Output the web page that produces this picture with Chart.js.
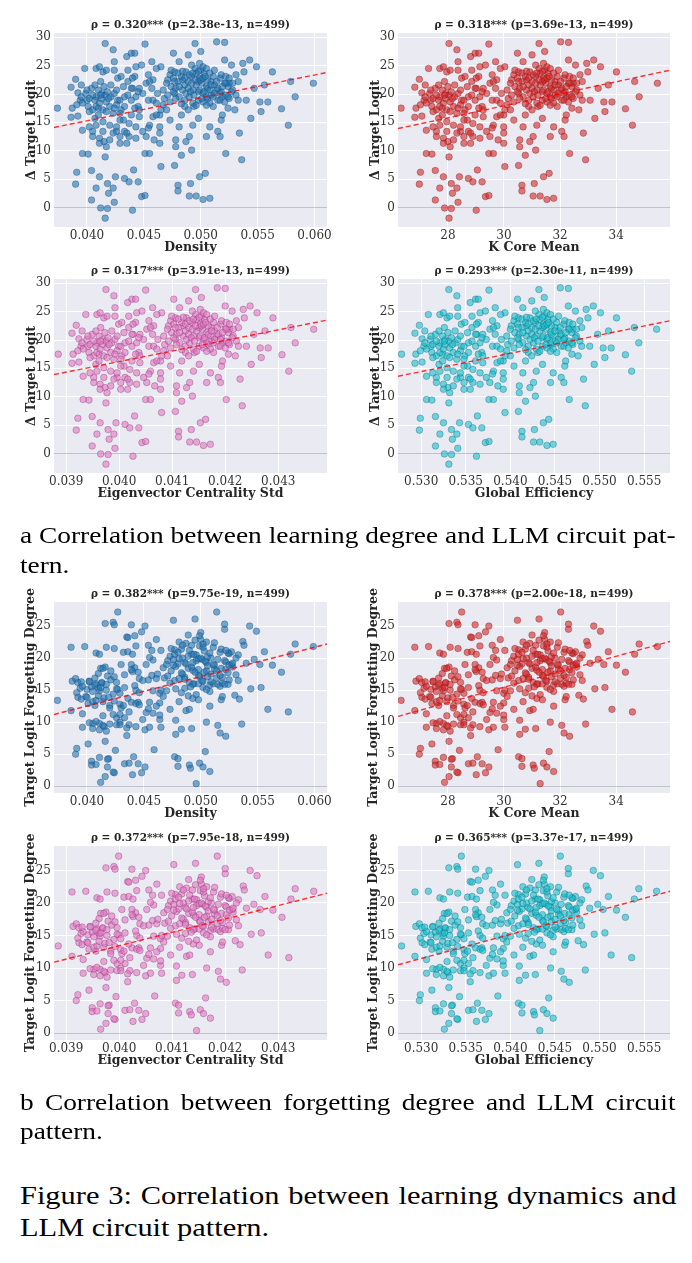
<!DOCTYPE html>
<html>
<head>
<meta charset="utf-8">
<script src="https://cdn.jsdelivr.net/npm/chart.js@4.4.1/dist/chart.umd.min.js"></script>
<style>
    body { margin: 0; background: #fff; width: 692px; height: 1263px; position: relative; overflow: hidden; }
    .panel { position: absolute; width: 346px; }
    .cap { position: absolute; left: 20px; font-family: "Liberation Serif", "Times New Roman", serif; color: #000; transform-origin: 0 0; }
    .cap div { white-space: nowrap; }
    .cap .j { white-space: normal; text-align: justify; text-align-last: justify; }
</style>
</head>
<body>
<div class="panel" id="p0"><canvas id="c0"></canvas></div>
<div class="panel" id="p1"><canvas id="c1"></canvas></div>
<div class="panel" id="p2"><canvas id="c2"></canvas></div>
<div class="panel" id="p3"><canvas id="c3"></canvas></div>
<div class="panel" id="p4"><canvas id="c4"></canvas></div>
<div class="panel" id="p5"><canvas id="c5"></canvas></div>
<div class="panel" id="p6"><canvas id="c6"></canvas></div>
<div class="panel" id="p7"><canvas id="c7"></canvas></div>

<div class="cap" style="top:520px;font-size:24px;line-height:30px;width:575px;transform:scaleX(1.14);">
    <div class="j">a Correlation between learning degree and LLM circuit pat-</div>
    <div>tern.</div>
</div>
<div class="cap" style="top:1088px;font-size:24px;line-height:29px;width:575px;transform:scaleX(1.14);">
    <div class="j">b Correlation between forgetting degree and LLM circuit</div>
    <div>pattern.</div>
</div>
<div class="cap" style="top:1180px;font-size:26px;line-height:32px;width:561px;transform:scaleX(1.17);">
    <div class="j">Figure 3: Correlation between learning dynamics and</div>
    <div>LLM circuit pattern.</div>
</div>

<script>
// one entry per model checkpoint, same order in every array
var density = [
    0.0374,0.0386,0.0387,0.0386,0.0390,0.0391,0.0390,0.0392,0.0392,0.0398,0.0396,0.0396,
    0.0400,0.0401,0.0404,0.0404,0.0405,0.0408,0.0408,0.0412,0.0416,0.0416,0.0418,0.0419,
    0.0423,0.0424,0.0418,0.0416,0.0411,0.0412,0.0413,0.0410,0.0408,0.0407,0.0411,0.0415,
    0.0424,0.0426,0.0427,0.0425,0.0423,0.0429,0.0433,0.0435,0.0439,0.0442,0.0440,0.0441,
    0.0445,0.0437,0.0433,0.0437,0.0439,0.0442,0.0446,0.0448,0.0451,0.0451,0.0451,0.0455,
    0.0452,0.0454,0.0455,0.0457,0.0458,0.0459,0.0464,0.0464,0.0465,0.0465,0.0467,0.0464,
    0.0468,0.0470,0.0471,0.0476,0.0477,0.0477,0.0478,0.0478,0.0480,0.0480,0.0481,0.0483,
    0.0484,0.0486,0.0483,0.0487,0.0489,0.0490,0.0491,0.0492,0.0493,0.0494,0.0495,0.0496,
    0.0496,0.0498,0.0499,0.0500,0.0501,0.0502,0.0504,0.0505,0.0506,0.0508,0.0509,0.0511,
    0.0514,0.0515,0.0517,0.0518,0.0521,0.0521,0.0522,0.0524,0.0525,0.0527,0.0530,0.0534,
    0.0536,0.0537,0.0538,0.0540,0.0543,0.0544,0.0547,0.0549,0.0552,0.0553,0.0556,0.0559,
    0.0563,0.0571,0.0577,0.0579,0.0583,0.0599,
    0.0473,0.0474,0.0476,0.0477,0.0478,0.0480,0.0481,0.0483,0.0484,0.0486,0.0487,0.0489,
    0.0490,0.0492,0.0493,0.0495,0.0496,0.0498,0.0499,0.0500,0.0502,0.0503,0.0505,0.0506,
    0.0508,0.0509,0.0511,0.0512,0.0514,0.0515,0.0517,0.0518,0.0519,0.0521,0.0522,0.0524,
    0.0525,0.0528,0.0531,0.0533,0.0499,0.0502,0.0505,0.0492,0.0486,0.0489,0.0493,0.0498,
    0.0502,0.0505,0.0508,0.0512,0.0517,0.0522,0.0527,
    0.0394,0.0395,0.0396,0.0399,0.0401,0.0402,0.0404,0.0405,0.0407,0.0408,0.0410,0.0411,
    0.0413,0.0414,0.0416,0.0417,0.0418,0.0420,0.0421,0.0423,0.0424,0.0426,0.0429,0.0430,
    0.0432,0.0433,0.0436,0.0439,0.0440,0.0443,0.0445,0.0446,0.0449,0.0452,0.0455,0.0457,
    0.0458,0.0461,0.0462,0.0465,0.0467,
    0.0402,0.0405,0.0408,0.0411,0.0414,0.0417,0.0420,0.0423,0.0426,0.0429,0.0432,0.0435,
    0.0437,0.0443,0.0446,0.0449,0.0458,0.0461,
    0.0411,0.0414,0.0417,0.0424,0.0427,0.0430,0.0436,0.0440,0.0443,0.0448,0.0454,0.0461,
    0.0470,0.0471,0.0473,0.0474,0.0476,0.0477,0.0478,0.0480,0.0481,0.0483,0.0484,0.0486,
    0.0487,0.0489,0.0490,0.0491,0.0492,0.0493,0.0494,0.0495,0.0496,0.0498,0.0499,0.0500,
    0.0501,0.0502,0.0503,0.0504,0.0505,0.0506,0.0508,0.0509,0.0511,0.0512,0.0514,0.0515,
    0.0517,0.0518,0.0519,0.0521,0.0522,0.0524,0.0525,0.0528,0.0531,0.0533,
    0.0391,0.0395,0.0400,0.0402,0.0405,0.0407,0.0410,0.0412,0.0415,0.0417,0.0419,0.0421,
    0.0424,0.0426,0.0429,0.0433,0.0436,0.0439,0.0442,0.0445,
    0.0414,0.0420,0.0429,0.0435,0.0443,0.0454,0.0464,0.0473,0.0481,0.0490,0.0498,0.0508,0.0519
];

var kCoreMean = [
    26.33,26.82,26.86,26.82,26.98,27.02,26.98,27.07,27.07,27.31,27.23,27.23,
    27.39,27.43,27.55,27.55,27.59,27.71,27.71,27.88,28.04,28.04,28.12,28.16,
    28.32,28.36,28.12,28.04,27.84,27.88,27.92,27.80,27.71,27.67,27.84,28.00,
    28.36,28.45,28.49,28.41,28.32,28.57,28.73,28.81,28.97,29.10,29.01,29.05,
    29.22,28.89,28.73,28.89,28.97,29.10,29.26,29.34,29.46,29.46,29.46,29.62,
    29.50,29.58,29.62,29.70,29.74,29.79,29.99,29.99,30.03,30.03,30.11,29.99,
    30.15,30.23,30.27,30.48,30.52,30.52,30.56,30.56,30.64,30.64,30.68,30.76,
    30.80,30.88,30.76,30.92,31.00,31.04,31.08,31.13,31.17,31.21,31.25,31.29,
    31.29,31.37,31.41,31.45,31.49,31.53,31.61,31.65,31.69,31.77,31.82,31.90,
    32.02,32.06,32.14,32.18,32.30,32.30,32.34,32.42,32.47,32.55,32.67,32.83,
    32.91,32.95,32.99,33.07,33.20,33.24,33.36,33.44,33.56,33.60,33.72,33.85,
    34.01,34.33,34.58,34.66,34.82,35.47,
    30.35,30.39,30.48,30.52,30.56,30.64,30.68,30.76,30.80,30.88,30.92,31.00,
    31.04,31.13,31.17,31.25,31.29,31.37,31.41,31.45,31.53,31.57,31.65,31.69,
    31.77,31.82,31.90,31.94,32.02,32.06,32.14,32.18,32.22,32.30,32.34,32.42,
    32.47,32.59,32.71,32.79,31.41,31.53,31.65,31.13,30.88,31.00,31.17,31.37,
    31.53,31.65,31.77,31.94,32.14,32.34,32.55,
    27.15,27.19,27.23,27.35,27.43,27.47,27.55,27.59,27.67,27.71,27.80,27.84,
    27.92,27.96,28.04,28.08,28.12,28.20,28.24,28.32,28.36,28.45,28.57,28.61,
    28.69,28.73,28.85,28.97,29.01,29.14,29.22,29.26,29.38,29.50,29.62,29.70,
    29.74,29.87,29.91,30.03,30.11,
    27.47,27.59,27.71,27.84,27.96,28.08,28.20,28.32,28.45,28.57,28.69,28.81,
    28.89,29.14,29.26,29.38,29.74,29.87,
    27.84,27.96,28.08,28.36,28.49,28.61,28.85,29.01,29.14,29.34,29.58,29.87,
    30.23,30.27,30.35,30.39,30.48,30.52,30.56,30.64,30.68,30.76,30.80,30.88,
    30.92,31.00,31.04,31.08,31.13,31.17,31.21,31.25,31.29,31.37,31.41,31.45,
    31.49,31.53,31.57,31.61,31.65,31.69,31.77,31.82,31.90,31.94,32.02,32.06,
    32.14,32.18,32.22,32.30,32.34,32.42,32.47,32.59,32.71,32.79,
    27.02,27.19,27.39,27.47,27.59,27.67,27.80,27.88,28.00,28.08,28.16,28.24,
    28.36,28.45,28.57,28.73,28.85,28.97,29.10,29.22,
    27.96,28.20,28.57,28.81,29.14,29.58,29.99,30.35,30.68,31.04,31.37,31.77,32.22
];

var eigenvectorStd = [
    0.03885,0.03911,0.03913,0.03911,0.03919,0.03922,0.03919,0.03924,0.03924,0.03937,0.03932,0.03932,
    0.03941,0.03943,0.03949,0.03949,0.03952,0.03958,0.03958,0.03965,0.03975,0.03975,0.03979,0.03981,
    0.03990,0.03992,0.03979,0.03975,0.03964,0.03965,0.03969,0.03962,0.03958,0.03956,0.03964,0.03973,
    0.03992,0.03996,0.03999,0.03994,0.03990,0.04003,0.04011,0.04016,0.04024,0.04031,0.04026,0.04029,
    0.04037,0.04020,0.04011,0.04020,0.04024,0.04031,0.04039,0.04043,0.04050,0.04050,0.04050,0.04059,
    0.04052,0.04056,0.04059,0.04063,0.04065,0.04067,0.04078,0.04078,0.04080,0.04080,0.04084,0.04078,
    0.04086,0.04091,0.04093,0.04103,0.04106,0.04106,0.04108,0.04108,0.04112,0.04112,0.04114,0.04118,
    0.04121,0.04125,0.04118,0.04127,0.04131,0.04133,0.04136,0.04138,0.04140,0.04142,0.04144,0.04146,
    0.04146,0.04151,0.04153,0.04155,0.04157,0.04159,0.04163,0.04165,0.04168,0.04172,0.04174,0.04178,
    0.04185,0.04187,0.04191,0.04193,0.04200,0.04200,0.04202,0.04206,0.04208,0.04213,0.04219,0.04228,
    0.04232,0.04234,0.04236,0.04240,0.04247,0.04249,0.04254,0.04260,0.04266,0.04268,0.04275,0.04281,
    0.04290,0.04307,0.04320,0.04324,0.04332,0.04367,
    0.04097,0.04099,0.04103,0.04106,0.04108,0.04112,0.04114,0.04118,0.04121,0.04125,0.04127,0.04131,
    0.04133,0.04138,0.04140,0.04144,0.04146,0.04151,0.04153,0.04155,0.04159,0.04161,0.04165,0.04168,
    0.04172,0.04174,0.04178,0.04180,0.04185,0.04187,0.04191,0.04193,0.04195,0.04200,0.04202,0.04206,
    0.04208,0.04215,0.04221,0.04225,0.04153,0.04159,0.04165,0.04138,0.04125,0.04131,0.04140,0.04151,
    0.04159,0.04165,0.04172,0.04180,0.04191,0.04202,0.04213,
    0.03928,0.03930,0.03932,0.03939,0.03943,0.03945,0.03949,0.03952,0.03956,0.03958,0.03962,0.03964,
    0.03969,0.03971,0.03975,0.03977,0.03979,0.03984,0.03986,0.03990,0.03992,0.03996,0.04003,0.04005,
    0.04009,0.04011,0.04018,0.04024,0.04026,0.04033,0.04037,0.04039,0.04046,0.04052,0.04059,0.04063,
    0.04065,0.04071,0.04073,0.04080,0.04084,
    0.03945,0.03952,0.03958,0.03964,0.03971,0.03977,0.03984,0.03990,0.03996,0.04003,0.04009,0.04016,
    0.04020,0.04033,0.04039,0.04046,0.04065,0.04071,
    0.03964,0.03971,0.03977,0.03992,0.03999,0.04005,0.04018,0.04026,0.04033,0.04043,0.04056,0.04071,
    0.04091,0.04093,0.04097,0.04099,0.04103,0.04106,0.04108,0.04112,0.04114,0.04118,0.04121,0.04125,
    0.04127,0.04131,0.04133,0.04136,0.04138,0.04140,0.04142,0.04144,0.04146,0.04151,0.04153,0.04155,
    0.04157,0.04159,0.04161,0.04163,0.04165,0.04168,0.04172,0.04174,0.04178,0.04180,0.04185,0.04187,
    0.04191,0.04193,0.04195,0.04200,0.04202,0.04206,0.04208,0.04215,0.04221,0.04225,
    0.03922,0.03930,0.03941,0.03945,0.03952,0.03956,0.03962,0.03965,0.03973,0.03977,0.03981,0.03986,
    0.03992,0.03996,0.04003,0.04011,0.04018,0.04024,0.04031,0.04037,
    0.03971,0.03984,0.04003,0.04016,0.04033,0.04056,0.04078,0.04097,0.04114,0.04133,0.04151,0.04172,0.04195
];

var globalEfficiency = [
    0.5278,0.5293,0.5294,0.5293,0.5298,0.5299,0.5298,0.5301,0.5301,0.5308,0.5306,0.5306,
    0.5311,0.5312,0.5316,0.5316,0.5317,0.5321,0.5321,0.5326,0.5331,0.5331,0.5334,0.5335,
    0.5340,0.5341,0.5334,0.5331,0.5325,0.5326,0.5327,0.5324,0.5321,0.5320,0.5325,0.5330,
    0.5341,0.5344,0.5345,0.5343,0.5340,0.5348,0.5353,0.5355,0.5361,0.5364,0.5362,0.5363,
    0.5368,0.5358,0.5353,0.5358,0.5361,0.5364,0.5369,0.5372,0.5376,0.5376,0.5376,0.5381,
    0.5377,0.5380,0.5381,0.5383,0.5385,0.5386,0.5392,0.5392,0.5394,0.5394,0.5396,0.5392,
    0.5397,0.5400,0.5401,0.5408,0.5409,0.5409,0.5410,0.5410,0.5413,0.5413,0.5414,0.5417,
    0.5418,0.5420,0.5417,0.5422,0.5424,0.5426,0.5427,0.5428,0.5429,0.5431,0.5432,0.5433,
    0.5433,0.5436,0.5437,0.5438,0.5440,0.5441,0.5443,0.5445,0.5446,0.5448,0.5450,0.5452,
    0.5456,0.5457,0.5460,0.5461,0.5465,0.5465,0.5466,0.5469,0.5470,0.5473,0.5476,0.5482,
    0.5484,0.5485,0.5487,0.5489,0.5493,0.5494,0.5498,0.5501,0.5504,0.5506,0.5510,0.5513,
    0.5519,0.5529,0.5536,0.5539,0.5544,0.5564,
    0.5404,0.5405,0.5408,0.5409,0.5410,0.5413,0.5414,0.5417,0.5418,0.5420,0.5422,0.5424,
    0.5426,0.5428,0.5429,0.5432,0.5433,0.5436,0.5437,0.5438,0.5441,0.5442,0.5445,0.5446,
    0.5448,0.5450,0.5452,0.5454,0.5456,0.5457,0.5460,0.5461,0.5462,0.5465,0.5466,0.5469,
    0.5470,0.5474,0.5478,0.5480,0.5437,0.5441,0.5445,0.5428,0.5420,0.5424,0.5429,0.5436,
    0.5441,0.5445,0.5448,0.5454,0.5460,0.5466,0.5473,
    0.5303,0.5304,0.5306,0.5310,0.5312,0.5313,0.5316,0.5317,0.5320,0.5321,0.5324,0.5325,
    0.5327,0.5329,0.5331,0.5332,0.5334,0.5336,0.5338,0.5340,0.5341,0.5344,0.5348,0.5349,
    0.5352,0.5353,0.5357,0.5361,0.5362,0.5366,0.5368,0.5369,0.5373,0.5377,0.5381,0.5383,
    0.5385,0.5389,0.5390,0.5394,0.5396,
    0.5313,0.5317,0.5321,0.5325,0.5329,0.5332,0.5336,0.5340,0.5344,0.5348,0.5352,0.5355,
    0.5358,0.5366,0.5369,0.5373,0.5385,0.5389,
    0.5325,0.5329,0.5332,0.5341,0.5345,0.5349,0.5357,0.5362,0.5366,0.5372,0.5380,0.5389,
    0.5400,0.5401,0.5404,0.5405,0.5408,0.5409,0.5410,0.5413,0.5414,0.5417,0.5418,0.5420,
    0.5422,0.5424,0.5426,0.5427,0.5428,0.5429,0.5431,0.5432,0.5433,0.5436,0.5437,0.5438,
    0.5440,0.5441,0.5442,0.5443,0.5445,0.5446,0.5448,0.5450,0.5452,0.5454,0.5456,0.5457,
    0.5460,0.5461,0.5462,0.5465,0.5466,0.5469,0.5470,0.5474,0.5478,0.5480,
    0.5299,0.5304,0.5311,0.5313,0.5317,0.5320,0.5324,0.5326,0.5330,0.5332,0.5335,0.5338,
    0.5341,0.5344,0.5348,0.5353,0.5357,0.5361,0.5364,0.5368,
    0.5329,0.5336,0.5348,0.5355,0.5366,0.5380,0.5392,0.5404,0.5414,0.5426,0.5436,0.5448,0.5462
];

var deltaTargetLogit = [
    17.5,21.2,17.5,15.9,4.1,6.2,22.6,20.2,16.1,24.5,9.5,13.6,
    18.9,9.4,6.5,1.3,13.4,3.4,24.5,-0.1,28.9,-1.9,-0.2,2.5,
    27.8,0.9,4.2,8.9,5.4,22.2,20.1,17.5,19.5,15.7,12.2,11.6,
    25.7,13.4,18.9,5.4,3.4,12.5,5.1,26.6,27.2,27.2,-0.5,6.6,
    4.5,4.5,13.4,12.5,16.3,23.1,21.0,1.9,2.1,28.8,9.5,9.5,
    12.5,18.9,14.5,25.7,22.5,11.9,14.2,16.3,24.8,7.2,20.7,11.3,
    19.2,17.2,22.5,27.2,23.9,7.4,11.9,10.7,3.9,2.9,25.7,9.2,
    22.5,18.9,16.3,11.6,26.9,2.0,4.2,10.1,14.5,17.8,28.9,2.0,
    23.6,20.4,5.4,27.5,21.9,1.4,6.0,12.5,19.2,1.6,22.2,17.8,
    29.2,13.4,12.5,15.4,29.1,26.0,9.5,17.5,21.9,25.1,17.2,13.1,
    8.4,25.4,23.9,18.9,26.0,15.7,21.0,24.8,18.6,16.9,21.6,18.6,
    23.9,17.4,14.5,22.2,19.5,21.9,
    23.4,21.3,22.8,20.1,21.0,22.2,19.5,23.1,20.7,21.6,23.9,22.2,
    19.5,23.1,20.7,24.5,21.6,22.2,22.8,24.2,20.1,23.6,21.3,22.5,
    20.7,19.8,23.1,21.6,20.7,18.9,22.8,20.4,19.5,21.9,19.8,21.3,
    19.2,20.7,19.8,22.2,25.4,24.8,24.5,25.1,17.8,17.2,18.4,18.9,
    18.6,19.5,18.4,20.1,18.9,21.9,20.4,
    18.9,19.5,18.4,20.1,17.8,19.2,21.0,17.2,18.9,17.8,20.7,18.4,
    19.2,17.2,19.8,18.6,20.4,17.8,19.5,16.6,20.1,18.1,18.9,17.2,
    21.3,19.5,22.2,18.9,21.0,19.5,17.8,17.2,20.1,21.9,22.2,21.0,
    18.9,18.4,20.1,17.2,18.1,
    14.2,12.5,14.5,11.3,13.4,10.7,11.9,13.1,14.2,11.3,15.4,13.1,
    14.8,14.2,16.0,13.4,16.0,16.3,
    24.8,23.9,24.2,24.2,22.8,23.1,24.2,22.8,24.8,25.1,23.4,24.5,
    21.9,19.8,18.6,24.2,20.4,22.2,19.2,23.7,21.3,18.3,24.0,22.8,
    20.1,21.0,23.4,20.4,21.9,23.7,19.8,22.5,18.0,24.0,20.7,22.5,
    19.2,22.8,20.4,23.1,18.0,21.0,23.7,21.6,19.5,24.2,22.2,21.0,
    20.1,23.4,21.3,18.6,23.1,19.5,22.8,21.9,23.4,18.9,
    18.1,21.6,20.7,16.9,19.8,21.6,16.3,19.8,21.3,16.9,19.2,21.6,
    17.5,20.7,16.6,17.8,19.8,21.0,17.5,20.4,
    15.1,14.5,15.4,11.3,12.2,14.0,13.1,15.4,14.2,12.5,15.7,14.2,16.3
];

var forgettingDegree = [
    13.4,21.7,16.4,11.8,5.0,5.9,16.8,16.2,13.9,21.8,9.2,11.3,
    15.1,6.6,3.9,3.3,9.8,3.4,20.8,0.6,25.4,1.5,3.0,4.3,
    25.6,2.1,4.2,7.0,4.5,18.4,16.1,15.3,16.0,12.6,9.8,9.3,
    21.5,10.7,15.1,5.6,2.2,10.0,3.5,23.3,25.2,23.5,1.8,4.6,
    3.5,3.6,10.7,9.6,13.1,18.5,16.8,2.1,3.0,25.0,8.8,9.2,
    11.5,16.6,13.1,21.2,19.7,5.7,13.0,14.5,21.2,9.2,18.5,10.4,
    16.9,14.9,19.6,25.9,21.3,4.6,10.3,8.1,4.3,3.1,22.5,8.9,
    20.0,17.0,14.6,11.8,23.6,3.3,2.8,9.0,13.7,16.0,26.1,0.4,
    20.5,18.2,3.6,24.0,19.8,3.0,5.4,10.0,17.1,2.3,20.0,16.0,
    27.2,9.5,8.3,13.5,24.5,25.3,7.8,15.9,20.7,21.0,14.2,13.6,
    9.7,22.6,22.0,19.2,25.0,15.2,19.8,24.2,19.0,15.4,21.0,12.0,
    18.9,17.8,11.6,20.6,22.2,21.8,
    20.3,18.0,19.8,16.5,18.7,19.1,16.8,21.4,17.5,19.3,22.3,18.4,
    16.2,20.6,18.1,22.8,19.6,17.3,21.9,22.9,16.4,21.1,19.3,20.2,
    15.8,17.5,21.7,18.9,16.9,15.9,20.9,18.4,17.0,19.6,18.2,20.8,
    16.6,18.6,17.4,20.5,23.5,21.7,22.5,22.0,15.3,14.1,15.9,16.0,
    15.4,18.0,14.8,18.3,15.6,19.4,19.0,
    15.3,13.6,15.6,14.0,12.9,16.4,15.5,13.2,15.8,13.4,17.6,14.9,
    16.2,13.2,18.6,15.0,17.2,12.6,16.6,14.4,17.1,15.2,12.8,12.2,
    20.9,17.4,21.0,19.0,17.9,15.0,13.1,14.6,16.5,19.0,20.1,17.3,
    14.9,16.8,17.5,15.0,14.0,
    9.9,9.0,10.1,8.8,9.5,8.6,9.7,11.2,9.6,9.6,12.6,7.9,
    11.6,12.9,12.7,10.4,11.4,12.5,
    20.6,18.4,21.7,25.2,27.2,19.0,23.2,20.6,21.9,24.1,22.0,22.9,
    19.0,17.2,16.1,21.5,18.9,20.6,15.2,20.9,19.9,17.7,22.0,16.7,
    19.1,20.3,21.2,15.5,18.6,19.3,20.6,17.8,14.3,19.9,17.1,20.0,
    16.5,22.2,17.8,19.5,15.1,18.8,20.8,16.3,19.0,22.4,18.0,19.8,
    17.3,21.4,16.1,15.9,21.2,17.7,18.9,19.2,20.0,16.5,
    14.6,16.3,13.9,16.3,14.8,16.9,14.1,15.4,13.8,15.9,13.9,18.0,
    13.3,16.2,14.5,15.4,13.7,18.2,15.7,17.8,
    11.0,12.2,11.2,9.1,9.3,12.1,11.1,12.0,13.2,12.0,13.5,12.5,14.0
];

var panelTitles = [
    "ρ = 0.320*** (p=2.38e-13, n=499)",
    "ρ = 0.318*** (p=3.69e-13, n=499)",
    "ρ = 0.317*** (p=3.91e-13, n=499)",
    "ρ = 0.293*** (p=2.30e-11, n=499)",
    "ρ = 0.382*** (p=9.75e-19, n=499)",
    "ρ = 0.378*** (p=2.00e-18, n=499)",
    "ρ = 0.372*** (p=7.95e-18, n=499)",
    "ρ = 0.365*** (p=3.37e-17, n=499)"
];

// regression line value at the left / right edge of each panel
var fitLeft  = [14.1, 13.9, 13.9, 13.6, 11.2, 10.9, 10.9, 10.5];
var fitRight = [23.8, 24.2, 23.5, 23.4, 22.2, 22.6, 21.5, 21.8];

var densityTicks = [0.040, 0.045, 0.050, 0.055, 0.060];
var kCoreTicks = [28, 30, 32, 34];
var eigTicks = [0.039, 0.040, 0.041, 0.042, 0.043];
var effTicks = [0.530, 0.535, 0.540, 0.545, 0.550, 0.555];
var logitTicks = [0, 5, 10, 15, 20, 25, 30];
var forgetTicks = [0, 5, 10, 15, 20, 25];

var metrics = [
    {label: "Density", values: density, min: 0.0371, max: 0.0611, ticks: densityTicks, digits: 3},
    {label: "K Core Mean", values: kCoreMean, min: 26.22, max: 35.92, ticks: kCoreTicks, digits: 0},
    {label: "Eigenvector Centrality Std", values: eigenvectorStd, min: 0.03877, max: 0.04392, ticks: eigTicks, digits: 3},
    {label: "Global Efficiency", values: globalEfficiency, min: 0.5274, max: 0.5579, ticks: effTicks, digits: 3}
];

var targets = [
    {label: "\u0394 Target Logit", values: deltaTargetLogit, min: -3.46, max: 30.76, ticks: logitTicks},
    {label: "Target Logit Forgetting Degree", values: forgettingDegree, min: -1.06, max: 28.76, ticks: forgetTicks}
];

var pointFill = ["rgba(31,119,180,0.6)", "rgba(214,39,40,0.6)", "rgba(227,119,194,0.6)", "rgba(23,190,207,0.6)"];
var pointEdge = ["rgba(20,60,100,0.55)", "rgba(110,15,15,0.55)", "rgba(120,40,100,0.55)", "rgba(10,90,100,0.55)"];

var plotTops = [33, 279, 602, 846];
var plotHeights = [194, 194, 191, 194];

var plotBg = {
    id: 'plotBg',
    beforeDraw: function(chart){
        var a = chart.chartArea;
        var ctx = chart.ctx;
        ctx.save();
        ctx.fillStyle = "#eaeaf2";
        ctx.fillRect(a.left, a.top, a.right - a.left, a.bottom - a.top);
        ctx.restore();
    }
};

function drawPanel(i){
    var row = Math.floor(i / 2);
    var col = i % 2;
    var mi = (row % 2) * 2 + col;
    var m = metrics[mi];
    var t = targets[row < 2 ? 0 : 1];
    var yAxisW = col === 0 ? 54 : 52;
    var rightPad = col === 0 ? 19 : 22;
    var yTitlePad = col === 0 ? (row < 2 ? 24.2 : 23.5) : (row < 2 ? 21.8 : 20.5);

    var points = [];
    for(var k = 0; k < m.values.length; k++){
        points.push({x: m.values[k], y: t.values[k]});
    }

    var wrap = document.getElementById("p" + i);
    wrap.style.left = (col * 346) + "px";
    wrap.style.top = (plotTops[row] - 26) + "px";
    var canvas = document.getElementById("c" + i);
    canvas.width = 346;
    canvas.height = plotHeights[row] + 66;

    var tickFont = {family: "'DejaVu Serif', serif", size: 12};
    var labelFont = {family: "'DejaVu Serif', serif", size: 12.5, weight: "bold"};

    new Chart(canvas.getContext('2d'), {
        type: 'scatter',
        data: {
            datasets: [
                {
                    data: points,
                    pointRadius: 3.3,
                    backgroundColor: pointFill[mi],
                    borderColor: pointEdge[mi],
                    borderWidth: 0.6,
                    order: 2
                },
                {
                    type: 'line',
                    data: [{x: m.min, y: fitLeft[i]}, {x: m.max, y: fitRight[i]}],
                    borderColor: "rgba(255,0,0,0.8)",
                    borderWidth: 1.4,
                    borderDash: [5, 3],
                    pointRadius: 0,
                    fill: false,
                    order: 1
                }
            ]
        },
        options: {
            responsive: false,
            animation: false,
            devicePixelRatio: 1,
            layout: {padding: {left: 0, right: rightPad, top: 0, bottom: 0}},
            plugins: {
                legend: {display: false},
                tooltip: {enabled: false},
                title: {
                    display: true,
                    text: panelTitles[i],
                    fullSize: false,
                    color: "#262626",
                    font: {family: "'DejaVu Serif', serif", size: 10.5, weight: "bold", lineHeight: 1.2},
                    padding: {top: 12.2, bottom: 1.2}
                }
            },
            scales: {
                x: {
                    type: 'linear',
                    min: m.min,
                    max: m.max,
                    afterBuildTicks: function(s){ s.ticks = m.ticks.map(function(v){ return {value: v}; }); },
                    afterFit: function(s){ s.height = 40; },
                    grid: {color: "#ffffff", lineWidth: 1, drawTicks: false},
                    border: {display: false},
                    ticks: {
                        font: tickFont, color: "#333", padding: 2, maxRotation: 0,
                        callback: function(v){ return Number(v).toFixed(m.digits); }
                    },
                    title: {display: true, text: m.label, font: labelFont, color: "#262626", padding: {top: 0, bottom: 11.5}}
                },
                y: {
                    type: 'linear',
                    min: t.min,
                    max: t.max,
                    afterBuildTicks: function(s){ s.ticks = t.ticks.map(function(v){ return {value: v}; }); },
                    afterFit: function(s){ s.width = yAxisW; },
                    grid: {
                        color: function(ctx){ return (ctx.tick && ctx.tick.value === 0) ? "rgba(160,160,175,0.55)" : "#ffffff"; },
                        lineWidth: 1,
                        drawTicks: false
                    },
                    border: {display: false},
                    ticks: {font: tickFont, color: "#333", padding: 3},
                    title: {display: true, text: t.label, font: labelFont, color: "#262626", padding: {top: yTitlePad, bottom: 0}}
                }
            }
        },
        plugins: [plotBg]
    });
}

for(var i = 0; i < 8; i++){
    drawPanel(i);
}
</script>
</body>
</html>
